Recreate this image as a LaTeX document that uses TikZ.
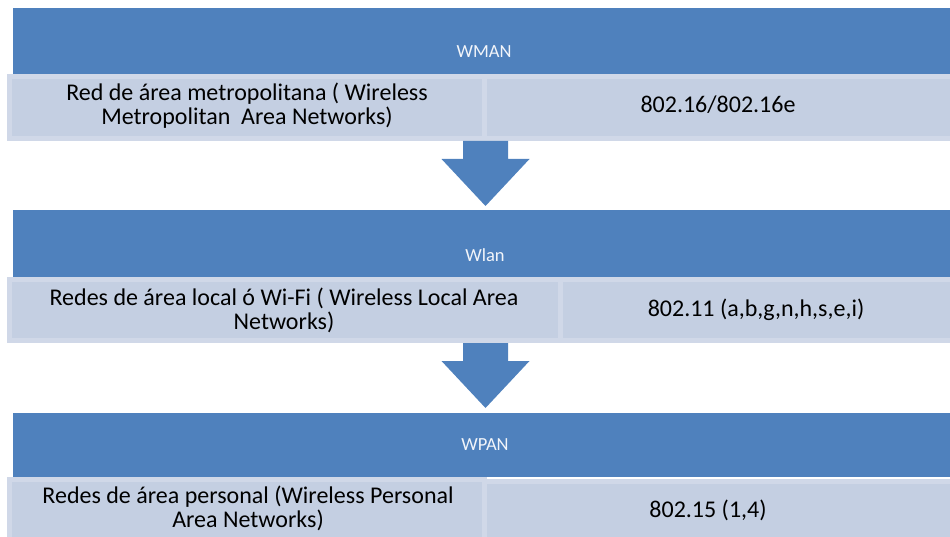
\documentclass[tikz,border=0pt]{standalone}
\usepackage{fontspec}
\setmainfont{Carlito}
\definecolor{bandblue}{HTML}{4F81BD}
\definecolor{cellfill}{HTML}{C4CFE2}
\definecolor{cellrim}{HTML}{D0D8E8}
\definecolor{bandtext}{HTML}{F2F5FA}

\begin{document}
\begin{tikzpicture}[x=1pt,y=-1pt,
  band/.style={fill=bandblue, inner sep=0pt, outer sep=0pt, anchor=north west, minimum width=950pt},
  cell/.style={draw=cellrim, line width=5pt, fill=cellfill, inner sep=0pt, outer sep=0pt, anchor=north west},
  head/.style={text=bandtext, font=\fontsize{18.5}{20}\selectfont, inner sep=0pt},
  body/.style={align=center, font=\fontsize{24}{24}\selectfont, inner sep=0pt},
  downarrow/.style={fill=bandblue}]
\useasboundingbox (0,0) rectangle (950,537);
\clip (0,0) rectangle (950,537);

% --- WMAN ---
\node[band, minimum height=66pt] (b1) at (13,8) {};
\node[head] (h1) at (484,52) {WMAN};
\node[cell, minimum width=475pt, minimum height=62pt] (l1) at (9.5,76.5) {};
\node[cell, minimum width=470pt, minimum height=62pt] (r1) at (484.5,76.5) {};
\node[body] (t1) at (247,106) {Red de área metropolitana ( Wireless\\Metropolitan\ \ Area Networks)};
\node[body] (s1) at (718,105) {802.16/802.16e};

% --- Wlan ---
\node[band, minimum height=67pt] (b2) at (13,210) {};
\node[head] (h2) at (485,255) {Wlan};
\node[cell, minimum width=551pt, minimum height=61pt] (l2) at (9.5,279.5) {};
\node[cell, minimum width=394pt, minimum height=61pt] (r2) at (560.5,279.5) {};
\node[body] (t2) at (284,310) {Redes de área local ó Wi-Fi ( Wireless Local Area\\Networks)};
\node[body] (s2) at (756,310) {802.11 (a,b,g,n,h,s,e,i)};

% --- WPAN ---
\node[band, minimum height=64pt] (b3) at (13,413) {};
\node[head] (h3) at (485,445) {WPAN};
\node[cell, minimum width=475pt, minimum height=64pt] (l3) at (9.5,479.5) {};
\node[cell, minimum width=470pt, minimum height=64pt] (r3) at (484.5,481) {};
\node[body] (t3) at (248,508) {Redes de área personal (Wireless Personal\\Area Networks)};
\node[body] (s3) at (708,510) {802.15 (1,4)};

% --- block arrows between the levels ---
\coordinate (a1) at (485.5,141);
\coordinate (a2) at (485.5,343);
\foreach \p in {a1,a2}
  \fill[downarrow] (\p) +(-22.5,0) -- +(22.5,0) -- +(22.5,18) -- +(44,18)
        -- +(0,65) -- +(-44,18) -- +(-22.5,18) -- cycle;
\end{tikzpicture}
\end{document}
